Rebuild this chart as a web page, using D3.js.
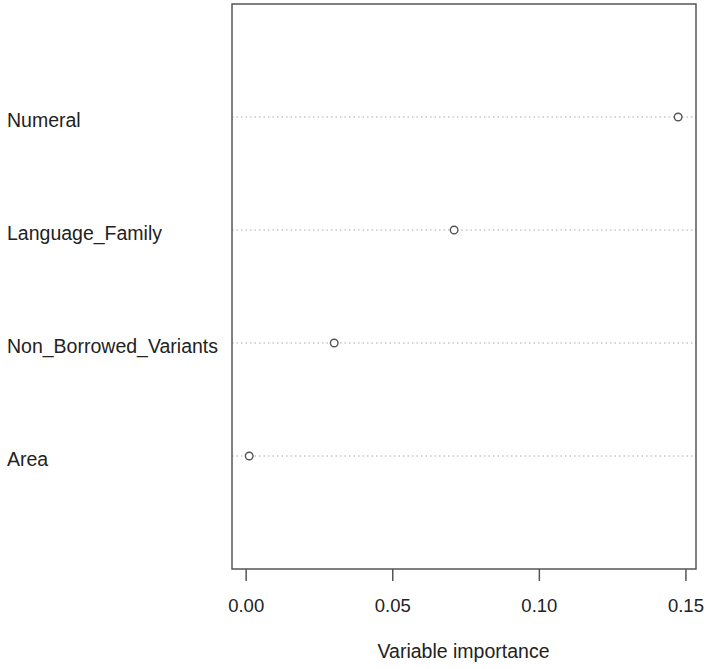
<!DOCTYPE html>
<html>
<head>
<meta charset="utf-8">
<script src="https://cdn.jsdelivr.net/npm/d3@7"></script>
<style>
  body { margin: 0; background: #fff; }
  text { font-family: "Liberation Sans", Arial, sans-serif; fill: #222; }
</style>
</head>
<body>
<div id="chart"></div>
<script>
var width = 706,
    height = 669;

// variables from bottom to top, as in the dotchart
var variables = ["Area", "Non_Borrowed_Variants", "Language_Family", "Numeral"];
var importance = [0.0012, 0.0302, 0.0711, 0.1475];
var tickValues = [0, 0.05, 0.10, 0.15];

var box = {left: 232, right: 696, top: 4, bottom: 569};

var x = d3.scaleLinear()
    .domain([-0.00466, 0.1536])
    .range([box.left, box.right]);

var y = d3.scaleLinear()
    .domain([0, variables.length + 1])
    .range([box.bottom, box.top]);

var svg = d3.select("#chart").append("svg")
    .attr("width", width)
    .attr("height", height);

var rows = variables.map(function (v, i) {
    return {name: v, value: importance[i], pos: i + 1};
});

// dotted guide lines
svg.selectAll(".guide")
    .data(rows)
    .enter()
    .append("line")
    .attr("class", "guide")
    .attr("x1", box.left)
    .attr("x2", box.right)
    .attr("y1", function (d) { return y(d.pos); })
    .attr("y2", function (d) { return y(d.pos); })
    .style("stroke", "#aaa")
    .style("stroke-width", 1)
    .style("stroke-dasharray", "1.5,3");

// points
svg.selectAll(".pt")
    .data(rows)
    .enter()
    .append("circle")
    .attr("class", "pt")
    .attr("cx", function (d) { return x(d.value); })
    .attr("cy", function (d) { return y(d.pos); })
    .attr("r", 3.8)
    .style("fill", "#fff")
    .style("stroke", "#555")
    .style("stroke-width", 1.4);

// row labels
svg.selectAll(".lab")
    .data(rows)
    .enter()
    .append("text")
    .attr("class", "lab")
    .attr("x", 7)
    .attr("y", function (d) { return y(d.pos); })
    .attr("dy", "0.5em")
    .attr("font-size", 19.5)
    .text(function (d) { return d.name; });

// box
svg.append("rect")
    .attr("x", box.left)
    .attr("y", box.top)
    .attr("width", box.right - box.left)
    .attr("height", box.bottom - box.top)
    .style("fill", "none")
    .style("stroke", "#555")
    .style("stroke-width", 1.5);

// x axis
var axis = svg.append("g")
    .attr("transform", "translate(0," + box.bottom + ")")
    .call(d3.axisBottom(x)
        .tickValues(tickValues)
        .tickFormat(d3.format(".2f"))
        .tickSize(12)
        .tickPadding(17.5));
axis.select(".domain").remove();
axis.selectAll(".tick line")
    .style("stroke", "#555")
    .style("stroke-width", 1.5);
axis.selectAll(".tick text")
    .attr("font-size", 18.5)
    .style("fill", "#222")
    .attr("font-family", "Liberation Sans, Arial, sans-serif");

svg.append("text")
    .attr("x", 463.5)
    .attr("y", 658)
    .attr("text-anchor", "middle")
    .attr("font-size", 19.5)
    .text("Variable importance");
</script>
</body>
</html>
